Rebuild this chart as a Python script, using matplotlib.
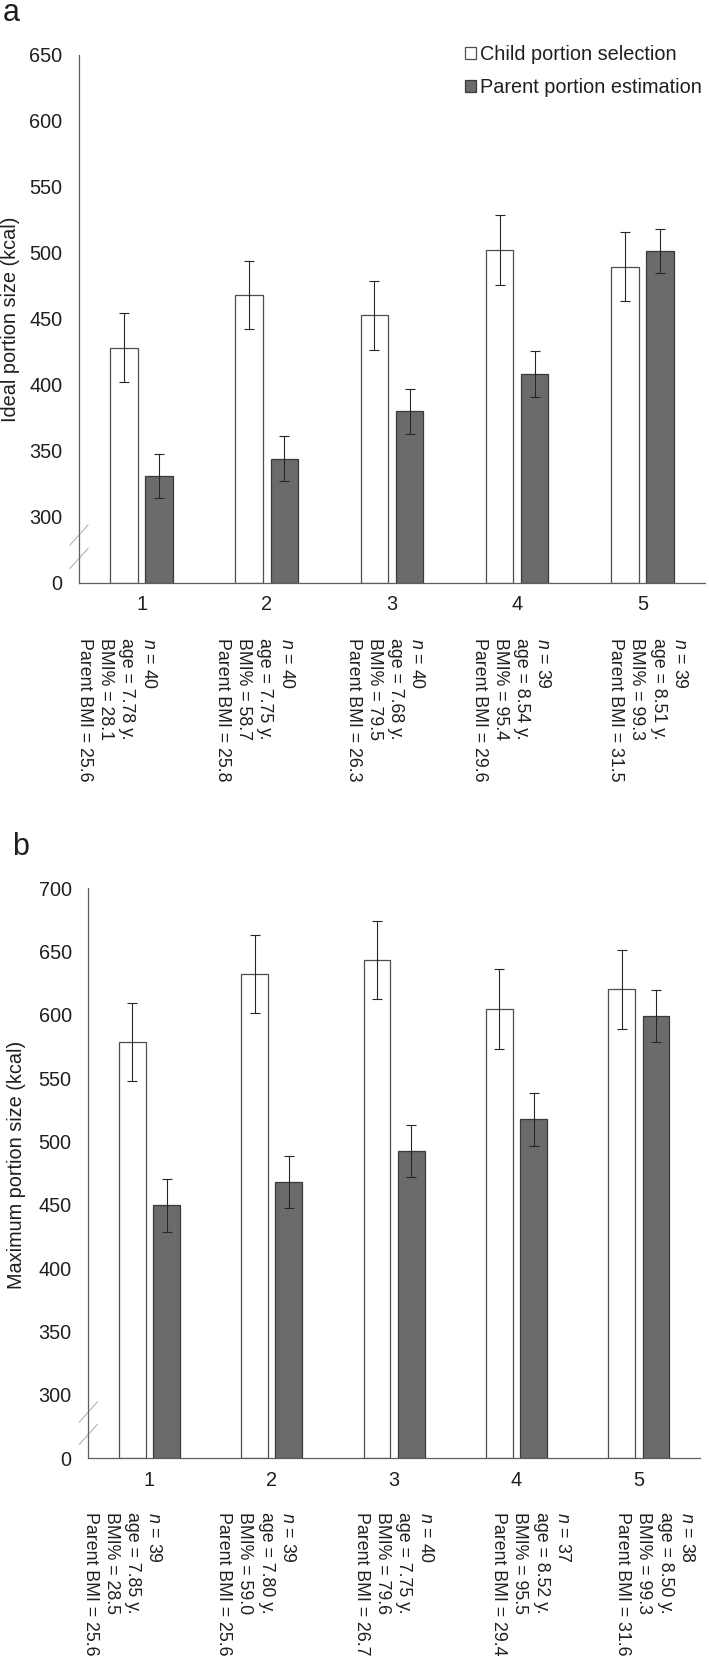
import matplotlib
matplotlib.use("Agg")
import matplotlib.pyplot as plt
import numpy as np
from matplotlib.lines import Line2D
from matplotlib.transforms import ScaledTranslation, blended_transform_factory

plt.rcParams["font.family"] = ["Liberation Sans", "DejaVu Sans"]
plt.rcParams["mathtext.fontset"] = "custom"
plt.rcParams["mathtext.rm"] = "Liberation Sans"
plt.rcParams["mathtext.it"] = "Liberation Sans:italic"

# ── Data (kcal, mean ± SE) ───────────────────────────────────────────────────
groups = ["1", "2", "3", "4", "5"]
series_labels = ["Child portion selection", "Parent portion estimation"]

ideal_child = [428, 468, 452.5, 502, 489.5]
ideal_child_se = [26, 26, 26, 26.5, 26]
ideal_parent = [331, 344, 380, 408, 501]
ideal_parent_se = [17, 17, 17, 17.5, 16.7]

max_child = [578.5, 632, 643, 604.5, 620]
max_child_se = [31, 30.5, 31, 31.5, 31]
max_parent = [449.5, 468, 492.5, 517.5, 599]
max_parent_se = [21, 20.5, 20.5, 21, 20.5]

ideal_n = [40, 40, 40, 39, 39]
ideal_age = ["7.78", "7.75", "7.68", "8.54", "8.51"]
ideal_bmi_pct = ["28.1", "58.7", "79.5", "95.4", "99.3"]
ideal_parent_bmi = ["25.6", "25.8", "26.3", "29.6", "31.5"]

max_n = [39, 39, 40, 37, 38]
max_age = ["7.85", "7.80", "7.75", "8.52", "8.50"]
max_bmi_pct = ["28.5", "59.0", "79.6", "95.5", "99.3"]
max_parent_bmi = ["25.6", "25.6", "26.7", "29.4", "31.6"]

# ── Layout ───────────────────────────────────────────────────────────────────
W, H = 709, 1657
FLOOR = 250          # axis floor shown as "0" below the break
FS = 14.3
TXT = "#1f1f1f"
AXC = "#5f5f5f"

# x offset (px) of the "n =" line of each annotation block from the group centre
n_offset_a = [6.5, 19.2, 25.0, 25.8, 37.2]
n_offset_b = [4.5, 15.5, 31.0, 45.9, 47.7]
LINE_PITCH = 21.3


def px_rect(left, top, right, bottom):
    return [left / W, 1 - bottom / H, (right - left) / W, (bottom - top) / H]


fig = plt.figure(figsize=(W / 100, H / 100), dpi=100)


def draw_panel(rect, ytop, child, child_se, parent, parent_se,
               n_vals, ages, bmis, pbmis, n_offsets, text_top_px):
    ax = fig.add_axes(px_rect(*rect))
    x = np.arange(1, len(groups) + 1)
    ekw = dict(ecolor="#262626", elinewidth=0.8, capsize=3.5, capthick=0.8)
    b1 = ax.bar(x - 0.14, np.array(child) - FLOOR, 0.22, bottom=FLOOR,
                color="white", edgecolor="#4d4d4d", linewidth=0.9,
                yerr=child_se, error_kw=ekw)
    b2 = ax.bar(x + 0.14, np.array(parent) - FLOOR, 0.22, bottom=FLOOR,
                color="#6b6b6b", edgecolor="#3a3a3a", linewidth=0.9,
                yerr=parent_se, error_kw=ekw)

    ax.set_xlim(0.5, 5.5)
    ax.set_ylim(FLOOR, ytop)
    for s in ("top", "right"):
        ax.spines[s].set_visible(False)
    for s in ("left", "bottom"):
        ax.spines[s].set_color(AXC)
        ax.spines[s].set_linewidth(0.9)

    yt = [FLOOR] + list(range(300, ytop + 1, 50))
    ax.set_yticks(yt)
    ax.set_yticklabels(["0"] + [str(v) for v in yt[1:]])
    ax.set_xticks(x)
    ax.set_xticklabels(groups)
    ax.tick_params(axis="y", length=0, pad=12, labelsize=FS, colors=TXT)
    ax.tick_params(axis="x", length=0, pad=9, labelsize=FS, colors=TXT)

    # axis break marks
    for yb in (286.3, 268.6):
        tr = fig.dpi_scale_trans + ScaledTranslation(0.5, yb, ax.transData)
        ax.add_line(Line2D([-0.09, 0.09], [-0.10, 0.10], transform=tr,
                           color="#b4b4b4", lw=0.8, clip_on=False))

    # rotated group descriptions
    bbox = ax.get_position()
    ax_w_px = bbox.width * W
    ax_h_px = bbox.height * H
    spacing_px = ax_w_px / 5
    y_ax = -(text_top_px - rect[3]) / ax_h_px
    trans = blended_transform_factory(ax.transData, ax.transAxes)
    for i in range(len(groups)):
        lines = [f"$n$ = {n_vals[i]}", f"age = {ages[i]} y.",
                 f"BMI% = {bmis[i]}", f"Parent BMI = {pbmis[i]}"]
        for k, s in enumerate(lines):
            off = n_offsets[i] - k * LINE_PITCH
            ax.text(x[i] + off / spacing_px, y_ax, s, transform=trans,
                    rotation=270, rotation_mode="anchor", ha="left",
                    va="center", fontsize=12.75, color=TXT, clip_on=False)
    return ax, b1, b2


ax_a, ha1, ha2 = draw_panel((79, 54.5, 705, 583), 650,
                            ideal_child, ideal_child_se, ideal_parent, ideal_parent_se,
                            ideal_n, ideal_age, ideal_bmi_pct, ideal_parent_bmi,
                            n_offset_a, 638.3)
ax_b, _, _ = draw_panel((88.3, 888, 700, 1458), 700,
                        max_child, max_child_se, max_parent, max_parent_se,
                        max_n, max_age, max_bmi_pct, max_parent_bmi,
                        n_offset_b, 1512)

fig.legend([ha1, ha2], series_labels, loc="upper left",
           bbox_to_anchor=(465 / W, 1 - 45 / H), frameon=False, fontsize=FS,
           handlelength=0.55, handleheight=0.55, handletextpad=0.2,
           labelspacing=0.69, borderpad=0, borderaxespad=0, labelcolor=TXT)

fig.text(11 / W, 1 - 318.75 / H, "Ideal portion size (kcal)", rotation=90,
         ha="center", va="center", fontsize=FS, color=TXT)
fig.text(17 / W, 1 - 1165 / H, "Maximum portion size (kcal)", rotation=90,
         ha="center", va="center", fontsize=FS, color=TXT)

fig.text(3 / W, 1 - 20.7 / H, "a", fontsize=22, va="baseline", color=TXT)
fig.text(11.7 / W, 1 - 855 / H, "b", fontsize=22, va="baseline", color=TXT)

fig.savefig("out.png", dpi=100)
